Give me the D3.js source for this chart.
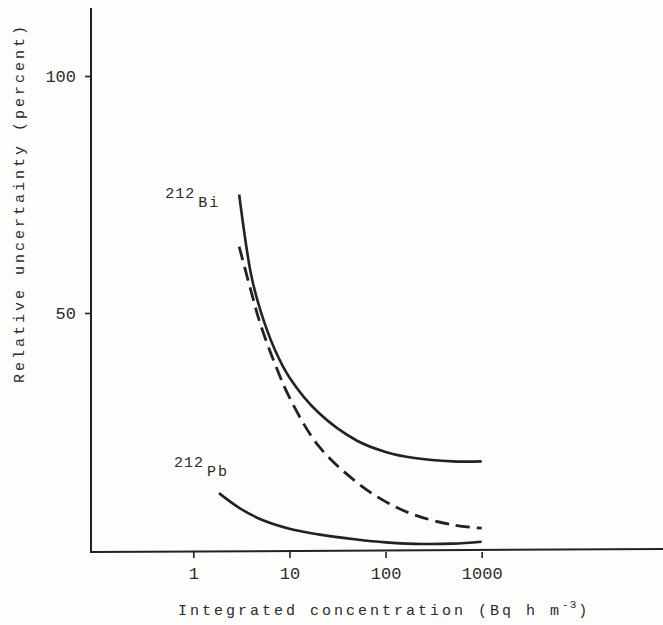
<!DOCTYPE html>
<html>
<head>
<meta charset="utf-8">
<script src="https://cdn.jsdelivr.net/npm/d3@7"></script>
<style>
  html, body { margin: 0; padding: 0; background: #fdfdfc; }
  svg { display: block; }
  text { font-family: "Liberation Mono", "DejaVu Sans Mono", monospace; fill: #2b2b2b; }
</style>
</head>
<body>
<svg id="chart" width="663" height="625"></svg>
<script>
// Integrated concentration (Bq h m^-3) at which each curve is evaluated
const concBi = [3, 4, 5, 7, 10, 20, 50, 100, 200, 500, 1000];
const concPb = [1.85, 3, 5, 10, 20, 50, 100, 200, 500, 1000];

// Relative uncertainty (percent)
const biTotal  = [75, 58, 50.5, 42.4, 36.4, 29.0, 23.1, 20.7, 19.4, 18.7, 18.7];
const biDashed = [64, 54.5, 47.6, 39.5, 32.2, 22.0, 14.3, 10.2, 7.4, 5.3, 4.6];
const pbTotal  = [12, 8.9, 6.5, 4.5, 3.3, 2.2, 1.6, 1.3, 1.35, 1.75];

const xTicks = [1, 10, 100, 1000];
const yTicks = [50, 100];

const svg = d3.select("#chart");
const W = 663;
const axisX = 91;      // y axis line position
const axisY = 552;     // x axis line position
const axisTop = 8;

const x = d3.scaleLog().domain([1, 1000]).range([193.3, 481.7]);
const y = d3.scaleLinear().domain([0, 100]).range([550, 76]);

const ink = "#222";

// axis lines
svg.append("line")
  .attr("x1", axisX).attr("x2", axisX)
  .attr("y1", axisTop).attr("y2", axisY + 1)
  .attr("stroke", ink).attr("stroke-width", 2);
svg.append("line")
  .attr("x1", axisX).attr("x2", W)
  .attr("y1", axisY).attr("y2", axisY - 3)
  .attr("stroke", ink).attr("stroke-width", 2);

// x axis ticks and labels
const gx = svg.append("g")
  .attr("transform", `translate(0,${axisY})`)
  .call(d3.axisBottom(x).tickValues(xTicks).tickFormat(d3.format("d"))
    .tickSize(6).tickPadding(9).tickSizeOuter(0));
gx.select(".domain").remove();
gx.selectAll(".tick line").attr("stroke", ink).attr("stroke-width", 1.6);
gx.selectAll(".tick text")
  .style("font-family", "'Liberation Mono', monospace")
  .attr("font-size", 17).attr("fill", "#2b2b2b");

// y axis ticks and labels
const gy = svg.append("g")
  .attr("transform", `translate(${axisX},0)`)
  .call(d3.axisLeft(y).tickValues(yTicks).tickFormat(d3.format("d"))
    .tickSize(6).tickPadding(9).tickSizeOuter(0));
gy.select(".domain").remove();
gy.selectAll(".tick line").attr("stroke", ink).attr("stroke-width", 1.6);
gy.selectAll(".tick text")
  .style("font-family", "'Liberation Mono', monospace")
  .attr("font-size", 17).attr("fill", "#2b2b2b");

// curves
const line = d3.line()
  .x(d => x(d[0]))
  .y(d => y(d[1]))
  .curve(d3.curveCatmullRom.alpha(0.5));

const zip = (xs, ys) => xs.map((v, i) => [v, ys[i]]);

svg.append("path")
  .datum(zip(concBi, biTotal))
  .attr("d", line)
  .attr("fill", "none").attr("stroke", ink).attr("stroke-width", 2.6);

svg.append("path")
  .datum(zip(concBi, biDashed))
  .attr("d", line)
  .attr("fill", "none").attr("stroke", ink).attr("stroke-width", 2.8)
  .attr("stroke-dasharray", "14,7");

svg.append("path")
  .datum(zip(concPb, pbTotal))
  .attr("d", line)
  .attr("fill", "none").attr("stroke", ink).attr("stroke-width", 2.6);

// isotope labels: mass number raised above the element symbol
function isotope(px, py, mass, sym) {
  const t = svg.append("text").attr("x", px).attr("y", py).attr("font-size", 15);
  t.append("tspan").attr("letter-spacing", 1).text(mass);
  t.append("tspan").attr("dy", 9).attr("dx", 3).attr("letter-spacing", 2).text(sym);
}
isotope(x(concBi[0]) - 74, y(biTotal[0]) + 3, "212", "Bi");
isotope(x(concPb[0]) - 45, y(pbTotal[0]) - 26, "212", "Pb");

// axis titles
const xTitle = svg.append("text")
  .attr("x", 178).attr("y", 615)
  .attr("font-size", 15).attr("letter-spacing", 3);
xTitle.append("tspan").text("Integrated concentration (Bq h m");
xTitle.append("tspan").attr("font-size", 11).attr("dy", -7).attr("letter-spacing", 1).text("-3");
xTitle.append("tspan").attr("dy", 7).attr("dx", 1).text(")");

svg.append("text")
  .attr("transform", "translate(24,383) rotate(-90)")
  .attr("font-size", 15).attr("letter-spacing", 3)
  .text("Relative uncertainty (percent)");
</script>
</body>
</html>
